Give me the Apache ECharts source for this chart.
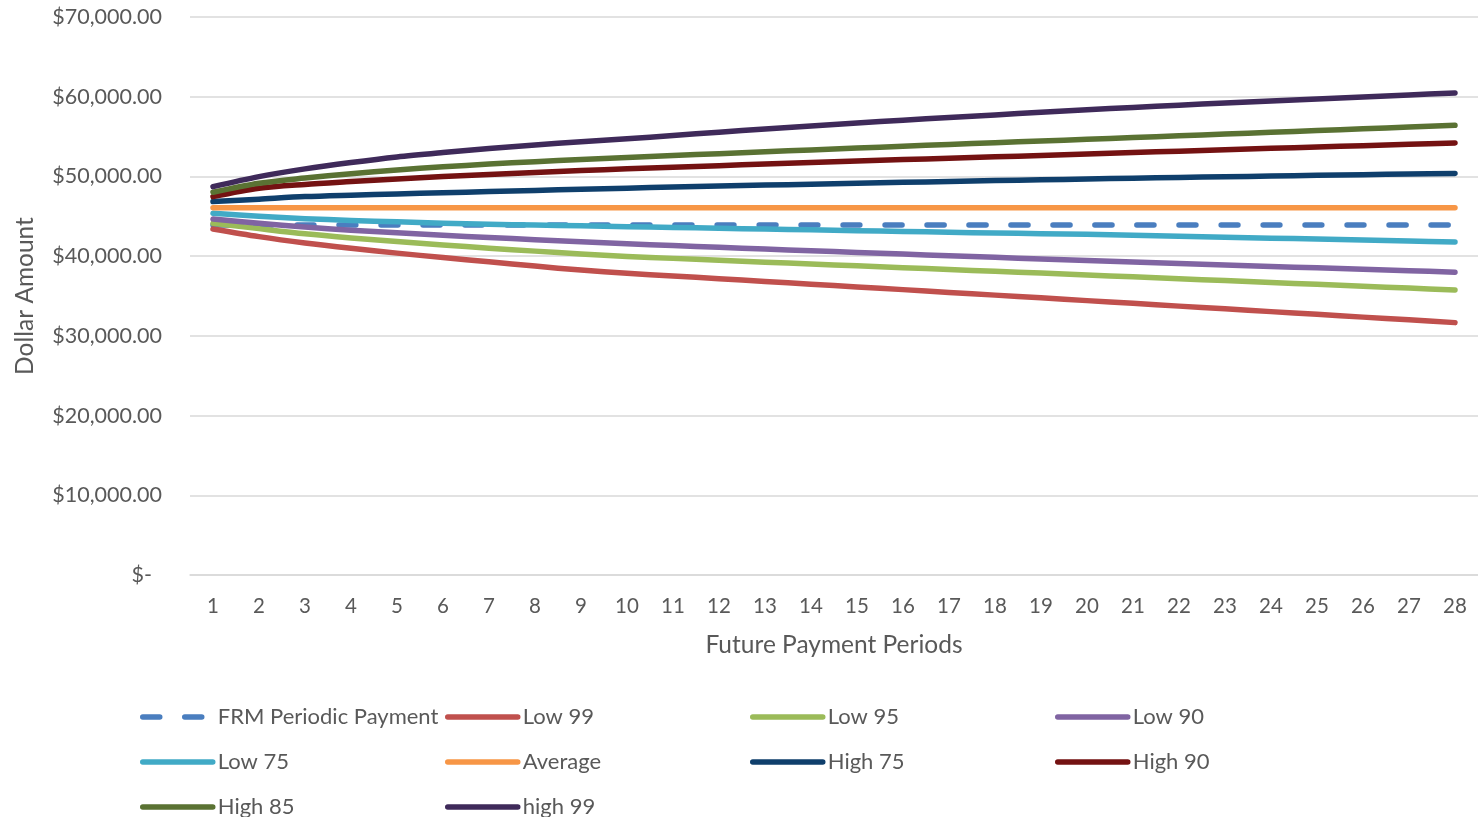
<!DOCTYPE html>
<html>
<head>
<meta charset="utf-8">
<title>Future Payment Periods</title>
<script src="https://cdn.jsdelivr.net/npm/echarts@6/dist/echarts.min.js"></script>
<style>
  html, body { margin: 0; padding: 0; background: #ffffff; }
  #chart { width: 1478px; height: 817px; }
</style>
</head>
<body>
<div id="chart"></div>
<script>
// Payment periods on the x axis
const periods = ['1','2','3','4','5','6','7','8','9','10','11','12','13','14','15','16','17','18','19','20','21','22','23','24','25','26','27','28'];

// Fixed-rate periodic payment and the average path
const frmPayment = Array(28).fill(43910);
const average = Array(28).fill(46080);

// Lower percentile paths
const low99 = [43410, 42450, 41650, 40980, 40380, 39820, 39300, 38750, 38250, 37850, 37510, 37170, 36830, 36480, 36140, 35800, 35450, 35110, 34770, 34420, 34080, 33730, 33390, 33040, 32700, 32350, 32010, 31660];
const low95 = [44130, 43450, 42800, 42280, 41830, 41400, 41000, 40630, 40280, 39960, 39720, 39480, 39240, 39010, 38780, 38550, 38320, 38100, 37870, 37640, 37400, 37170, 36930, 36700, 36460, 36230, 35990, 35760];
const low90 = [44670, 44130, 43650, 43250, 42920, 42620, 42340, 42070, 41810, 41550, 41330, 41110, 40890, 40680, 40470, 40260, 40050, 39850, 39650, 39450, 39260, 39070, 38890, 38710, 38530, 38350, 38170, 37990];
const low75 = [45380, 45000, 44700, 44480, 44300, 44130, 44000, 43900, 43800, 43700, 43600, 43500, 43400, 43300, 43200, 43100, 43000, 42900, 42820, 42740, 42620, 42500, 42380, 42260, 42140, 42020, 41900, 41780];

// Upper percentile paths
const high75 = [46840, 47150, 47470, 47650, 47800, 47950, 48100, 48250, 48390, 48530, 48660, 48790, 48910, 49030, 49150, 49260, 49370, 49480, 49580, 49680, 49780, 49870, 49960, 50050, 50140, 50220, 50300, 50380];
const high90 = [47470, 48520, 49000, 49350, 49680, 49980, 50250, 50500, 50730, 50950, 51150, 51350, 51550, 51740, 51930, 52110, 52290, 52460, 52630, 52800, 52990, 53170, 53350, 53520, 53690, 53860, 54030, 54200];
const high85 = [48010, 49140, 49800, 50350, 50810, 51200, 51550, 51850, 52120, 52370, 52620, 52860, 53100, 53330, 53560, 53790, 54010, 54230, 54440, 54650, 54870, 55090, 55310, 55530, 55750, 55970, 56190, 56410];
const high99 = [48720, 49980, 50950, 51750, 52450, 53000, 53500, 53950, 54350, 54720, 55140, 55550, 55950, 56330, 56700, 57050, 57390, 57720, 58050, 58370, 58660, 58940, 59210, 59470, 59720, 59970, 60220, 60480];

const FONT = 'Lato, "Open Sans", sans-serif';
const TEXT_COLOR = '#595959';
const LINE_WIDTH = 5.5;

const seriesDefs = [
  { name: 'FRM Periodic Payment', data: frmPayment, color: '#4A7EBF', dashed: true },
  { name: 'Low 99',  data: low99,   color: '#C0504D' },
  { name: 'Low 95',  data: low95,   color: '#9BBB59' },
  { name: 'Low 90',  data: low90,   color: '#8064A2' },
  { name: 'Low 75',  data: low75,   color: '#41AAC6' },
  { name: 'Average', data: average, color: '#F79646' },
  { name: 'High 75', data: high75,  color: '#0F3F6C' },
  { name: 'High 90', data: high90,  color: '#741212' },
  { name: 'High 85', data: high85,  color: '#5A7233' },
  { name: 'high 99', data: high99,  color: '#3F2A5A' }
];

function money(v) {
  if (v === 0) return '{z|$-}';
  return '$' + v.toLocaleString('en-US', { minimumFractionDigits: 2, maximumFractionDigits: 2 });
}

// Legend laid out in four columns, three rows
const legendColumns = [
  ['FRM Periodic Payment', 'Low 75', 'High 85'],
  ['Low 99', 'Average', 'high 99'],
  ['Low 95', 'High 75'],
  ['Low 90', 'High 90']
];
const legendLefts = [140, 445, 750, 1055];

const legends = legendColumns.map((names, i) => ({
  orient: 'vertical',
  left: legendLefts[i],
  top: 706,
  height: 140,
  padding: 0,
  itemWidth: 70,
  itemHeight: 20,
  itemGap: 23,
  data: names,
  selectedMode: false,
  itemStyle: { color: 'rgba(0,0,0,0)', opacity: 0, borderWidth: 0 },
  lineStyle: { width: LINE_WIDTH, cap: 'round' },
  textStyle: { fontFamily: FONT, fontSize: 22, color: TEXT_COLOR, lineHeight: 20 }
}));

const option = {
  animation: false,
  backgroundColor: '#ffffff',
  grid: { left: 190, right: 0, top: 17, bottom: 242, containLabel: false },
  legend: legends,
  xAxis: {
    type: 'category',
    data: periods,
    boundaryGap: true,
    name: 'Future Payment Periods',
    nameLocation: 'middle',
    nameGap: 58,
    nameTextStyle: { fontFamily: FONT, fontSize: 24.5, color: TEXT_COLOR },
    axisLine: { lineStyle: { color: '#D9D9D9', width: 1.5 } },
    axisTick: { show: false },
    axisLabel: { fontFamily: FONT, fontSize: 20.5, color: TEXT_COLOR, margin: 21 },
    splitLine: { show: false }
  },
  yAxis: {
    type: 'value',
    min: 0,
    max: 70000,
    interval: 10000,
    name: 'Dollar Amount',
    nameLocation: 'middle',
    nameRotate: 90,
    nameGap: 152,
    nameTextStyle: { fontFamily: FONT, fontSize: 24.5, color: TEXT_COLOR },
    axisLine: { show: false },
    axisTick: { show: false },
    axisLabel: {
      fontFamily: FONT, fontSize: 21.5, color: TEXT_COLOR, margin: 28,
      formatter: money,
      rich: { z: { fontFamily: FONT, fontSize: 21.5, color: TEXT_COLOR, padding: [0, 10, 0, 0] } }
    },
    splitLine: { lineStyle: { color: '#D9D9D9', width: 1.5 } }
  },
  series: seriesDefs.map(s => ({
    name: s.name,
    type: 'line',
    data: s.data,
    symbol: 'none',
    smooth: 0.3,
    color: s.color,
    lineStyle: {
      color: s.color,
      width: LINE_WIDTH,
      cap: 'round',
      join: 'round',
      type: s.dashed ? [17, 25] : 'solid'
    },
    emphasis: { disabled: true }
  }))
};

const chart = echarts.init(document.getElementById('chart'), null, { renderer: 'canvas' });
chart.setOption(option);
</script>
</body>
</html>
